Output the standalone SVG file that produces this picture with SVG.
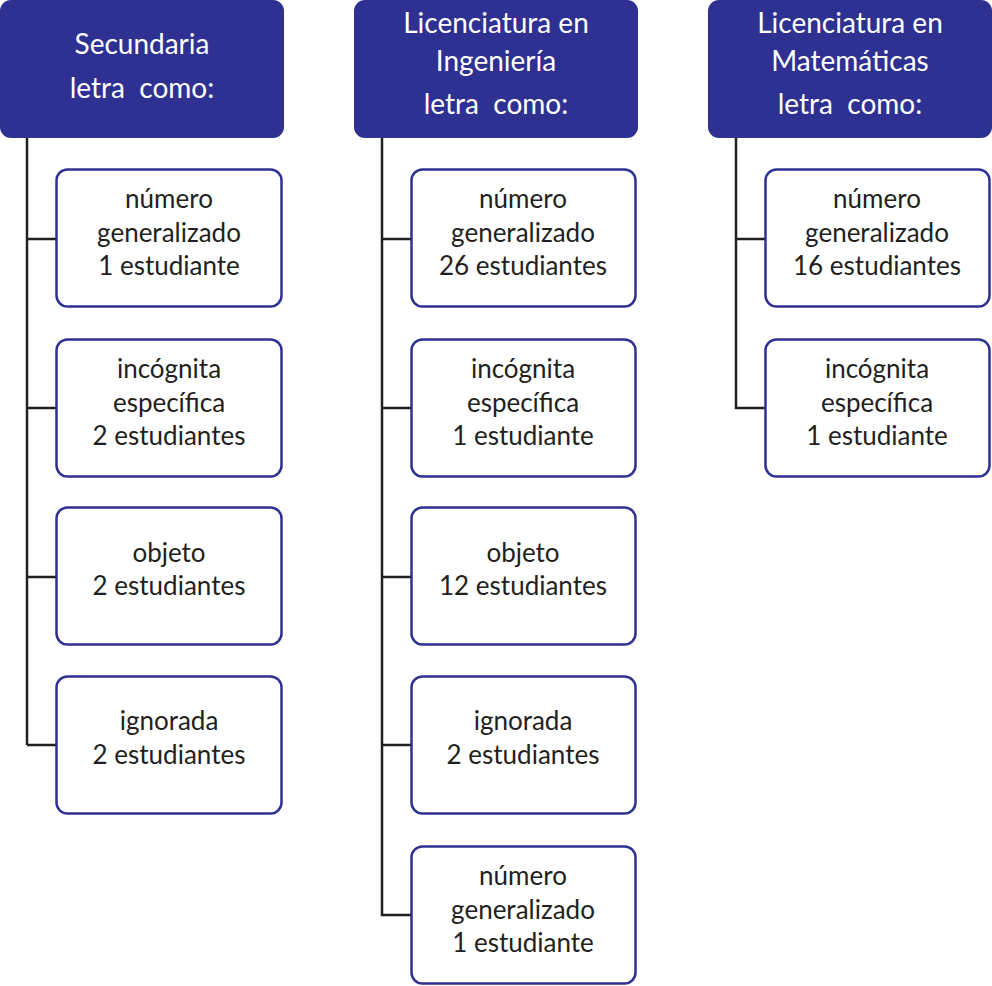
<svg xmlns="http://www.w3.org/2000/svg" width="992" height="986" viewBox="0 0 992 986">
<style>
.hdr{fill:#2e3192;}
.box{fill:#fff;stroke:#2e3192;stroke-width:2.5;}
.ht{font-family:Lato,"Liberation Sans",sans-serif;font-size:28px;fill:#fff;text-anchor:middle;white-space:pre;}
.bt{font-family:Lato,"Liberation Sans",sans-serif;font-size:26px;fill:#231f20;text-anchor:middle;}
.con{fill:none;stroke:#231f20;stroke-width:2.5;}
</style>
<rect width="992" height="986" fill="#fff"/>
<g id="connectors">
<path class="con" d="M27,138V745M27,239H56M27,408H56M27,577H56M27,745H56"/>
<path class="con" d="M382,138V915H411M382,239H411M382,408H411M382,577H411M382,745H411"/>
<path class="con" d="M736,138V408H765M736,239H765"/>
</g>
<g id="h1"><rect class="hdr" x="0" y="0" width="284" height="138" rx="11"/>
<text class="ht" x="142" y="54">Secundaria</text><text class="ht" x="142" y="98" xml:space="preserve">letra  como:</text></g>
<g id="h2"><rect class="hdr" x="354" y="0" width="284" height="138" rx="11"/>
<text class="ht" x="496" y="33">Licenciatura en</text><text class="ht" x="496" y="71">Ingeniería</text><text class="ht" x="496" y="114" xml:space="preserve">letra  como:</text></g>
<g id="h3"><rect class="hdr" x="708" y="0" width="284" height="138" rx="11"/>
<text class="ht" x="850" y="33">Licenciatura en</text><text class="ht" x="850" y="71">Matemáticas</text><text class="ht" x="850" y="114" xml:space="preserve">letra  como:</text></g>

<g id="s1"><rect class="box" x="56.5" y="169.5" width="225" height="137" rx="11"/>
<text class="bt" x="169" y="208">número</text><text class="bt" x="169" y="242">generalizado</text><text class="bt" x="169" y="275">1 estudiante</text></g>
<g id="s2"><rect class="box" x="56.5" y="339.5" width="225" height="137" rx="11"/>
<text class="bt" x="169" y="378">incógnita</text><text class="bt" x="169" y="412">específica</text><text class="bt" x="169" y="445">2 estudiantes</text></g>
<g id="s3"><rect class="box" x="56.5" y="507.5" width="225" height="137" rx="11"/>
<text class="bt" x="169" y="562">objeto</text><text class="bt" x="169" y="595">2 estudiantes</text></g>
<g id="s4"><rect class="box" x="56.5" y="676.5" width="225" height="137" rx="11"/>
<text class="bt" x="169" y="730">ignorada</text><text class="bt" x="169" y="764">2 estudiantes</text></g>

<g id="i1"><rect class="box" x="411.5" y="169.5" width="224" height="137" rx="11"/>
<text class="bt" x="523" y="208">número</text><text class="bt" x="523" y="242">generalizado</text><text class="bt" x="523" y="275">26 estudiantes</text></g>
<g id="i2"><rect class="box" x="411.5" y="339.5" width="224" height="137" rx="11"/>
<text class="bt" x="523" y="378">incógnita</text><text class="bt" x="523" y="412">específica</text><text class="bt" x="523" y="445">1 estudiante</text></g>
<g id="i3"><rect class="box" x="411.5" y="507.5" width="224" height="137" rx="11"/>
<text class="bt" x="523" y="562">objeto</text><text class="bt" x="523" y="595">12 estudiantes</text></g>
<g id="i4"><rect class="box" x="411.5" y="676.5" width="224" height="137" rx="11"/>
<text class="bt" x="523" y="730">ignorada</text><text class="bt" x="523" y="764">2 estudiantes</text></g>
<g id="i5"><rect class="box" x="411.5" y="846.5" width="224" height="137" rx="11"/>
<text class="bt" x="523" y="885">número</text><text class="bt" x="523" y="919">generalizado</text><text class="bt" x="523" y="952">1 estudiante</text></g>

<g id="m1"><rect class="box" x="765.5" y="169.5" width="224" height="137" rx="11"/>
<text class="bt" x="877" y="208">número</text><text class="bt" x="877" y="242">generalizado</text><text class="bt" x="877" y="275">16 estudiantes</text></g>
<g id="m2"><rect class="box" x="765.5" y="339.5" width="224" height="137" rx="11"/>
<text class="bt" x="877" y="378">incógnita</text><text class="bt" x="877" y="412">específica</text><text class="bt" x="877" y="445">1 estudiante</text></g>
</svg>
